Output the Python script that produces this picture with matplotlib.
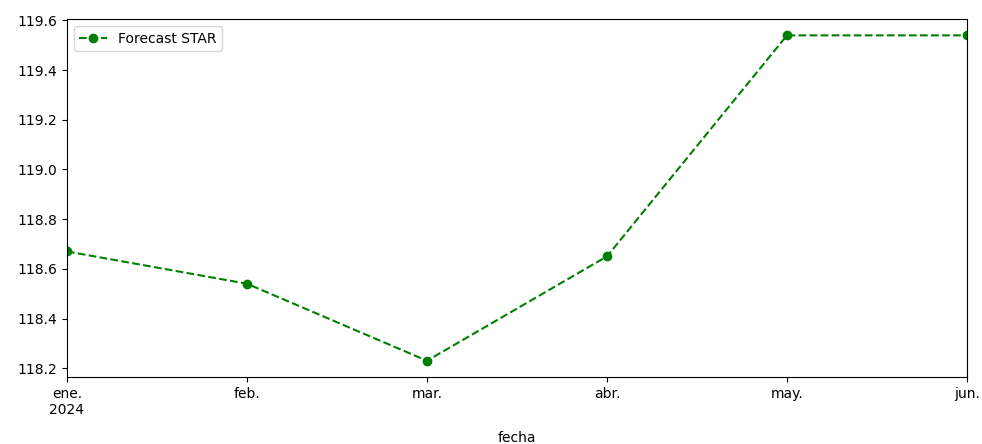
import matplotlib.pyplot as plt

# Datos (índice mensual, espaciado uniforme)
meses = ['2024-01', '2024-02', '2024-03', '2024-04', '2024-05', '2024-06']
forecast_star = [118.67, 118.54, 118.23, 118.65, 119.54, 119.54]
etiquetas_x = ['ene.\n2024', 'feb.', 'mar.', 'abr.', 'may.', 'jun.']

x = list(range(len(meses)))

fig = plt.figure(figsize=(9.82, 4.44), dpi=100)
ax = fig.add_axes([0.0682, 0.1509, 0.9165, 0.8061])

ax.plot(x, forecast_star, color='green', linestyle='--', marker='o', label='Forecast STAR')
ax.set_xlim(x[0], x[-1])
ax.set_xticks(x)
ax.set_xticklabels(etiquetas_x)
ax.set_xlabel('fecha', labelpad=10)
ax.legend(loc='upper left')

fig.savefig('out.png', dpi=100)
